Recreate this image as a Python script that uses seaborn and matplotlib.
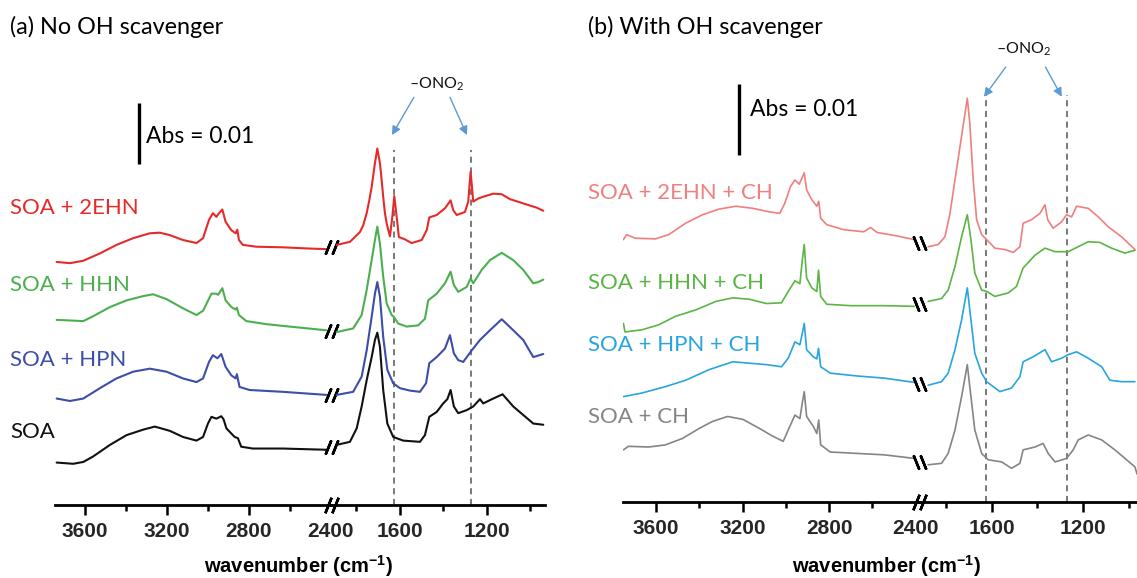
import numpy as np
import pandas as pd
import matplotlib
matplotlib.use("Agg")
import matplotlib.pyplot as plt
from matplotlib.transforms import offset_copy
import seaborn as sns

# ---------------- data (wavenumber in cm-1, absorbance in mAbs incl. stacking offset) ----------------
# Panel (a): no OH scavenger
A_2EHN_w = [3738, 3673, 3608, 3527, 3446, 3365, 3284, 3235, 3186, 3122, 3056, 3024, 2995, 2976, 2959, 2946, 2930, 2914,
            2886, 2865, 2857, 2849, 2830, 2765, 2635, 2505, 2424,
            1891, 1830, 1784, 1769, 1753, 1741, 1730, 1715, 1704, 1692, 1684, 1677, 1669, 1661, 1646, 1635, 1626, 1615,
            1605, 1577, 1546, 1500,
            1477, 1465, 1431, 1393, 1367, 1355, 1339, 1301, 1286, 1275, 1263, 1240, 1217, 1171, 1132, 1094, 1033, 971, 941]
A_2EHN_y = [39.7, 39.5, 39.9, 41.1, 42.5, 43.6, 44.4, 44.5, 44.1, 43.3, 42.8, 43.6, 46.6, 47.7, 47.1, 47.7, 48.3, 46.3,
            44.9, 44.4, 45.0, 43.3, 42.5, 42.2, 42.1, 41.9, 41.8,
            42.5, 43.0, 44.6, 45.7, 47.7, 49.8, 52.0, 55.9, 58.3, 55.9, 53.1, 50.4, 47.7, 46.0, 43.9, 47.1, 50.5, 47.1,
            43.8, 43.4, 42.8, 43.3,
            44.9, 47.0, 47.4, 48.5, 49.8, 48.2, 47.4, 47.9, 49.6, 54.5, 49.6, 50.1, 50.4, 50.9, 50.8, 50.0, 49.3, 48.6, 48.1]

A_HHN_w = [3738, 3608, 3560, 3478, 3397, 3316, 3268, 3202, 3122, 3056, 3024, 2983, 2959, 2951, 2930, 2914, 2886, 2865,
           2859, 2849, 2813, 2716, 2602, 2424,
           1891, 1815, 1776, 1753, 1730, 1715, 1704, 1692, 1677, 1661, 1638, 1628, 1608, 1569, 1516, 1485, 1470, 1431,
           1393, 1367, 1352, 1332, 1293, 1275, 1263, 1224, 1186, 1132, 1079, 1033, 987, 964, 941]
A_HHN_y = [30.2, 30.0, 30.8, 32.3, 33.4, 34.1, 34.4, 33.6, 32.1, 31.0, 31.7, 34.5, 34.5, 34.3, 35.4, 33.4, 32.3, 31.9,
           32.2, 31.0, 30.0, 29.5, 29.1, 28.5,
           28.2, 28.8, 31.0, 35.1, 40.0, 43.3, 45.5, 42.7, 37.3, 32.9, 31.0, 30.7, 29.6, 29.1, 29.3, 30.4, 33.4, 34.5,
           36.2, 38.1, 35.9, 34.8, 35.6, 37.0, 36.2, 38.4, 40.0, 41.2, 40.0, 38.4, 36.2, 36.4, 36.8]

A_HPN_w = [3738, 3673, 3608, 3527, 3446, 3365, 3284, 3202, 3122, 3056, 3024, 2995, 2976, 2954, 2935, 2914, 2886, 2865,
           2859, 2846, 2797, 2635, 2424,
           1891, 1815, 1776, 1753, 1730, 1715, 1704, 1692, 1677, 1658, 1631, 1600, 1554, 1508, 1480, 1465, 1431, 1393,
           1370, 1352, 1332, 1309, 1270, 1232, 1186, 1132, 1079, 1033, 987, 941]
A_HPN_y = [17.3, 16.9, 17.3, 19.0, 20.6, 21.7, 22.2, 21.7, 20.6, 20.0, 20.6, 23.3, 24.4, 23.9, 24.6, 22.5, 21.1, 20.6,
           21.3, 19.2, 18.7, 18.4, 17.9,
           17.9, 18.4, 20.9, 25.2, 30.7, 34.5, 36.4, 34.0, 27.4, 22.0, 19.8, 19.0, 18.6, 18.4, 19.8, 23.1, 24.1, 25.5,
           27.7, 24.7, 23.6, 23.3, 25.2, 26.9, 28.5, 30.3, 28.5, 26.9, 24.1, 24.6]

A_SOA_w = [3738, 3657, 3608, 3560, 3478, 3397, 3316, 3259, 3186, 3122, 3056, 3024, 3000, 2983, 2959, 2935, 2924, 2910,
           2870, 2854, 2838, 2781, 2635, 2424,
           1891, 1830, 1799, 1776, 1753, 1730, 1715, 1704, 1692, 1677, 1658, 1631, 1585, 1508, 1485, 1465, 1431, 1401,
           1382, 1367, 1352, 1332, 1293, 1263, 1232, 1217, 1171, 1128, 1079, 1033, 987, 941]
A_SOA_y = [6.8, 6.6, 6.9, 7.8, 9.7, 11.3, 12.2, 12.7, 12.0, 11.0, 10.4, 11.0, 13.2, 14.3, 14.0, 14.4, 13.9, 12.4,
           11.0, 10.8, 9.4, 9.1, 9.1, 8.9,
           9.7, 10.2, 12.4, 16.0, 20.3, 24.1, 26.9, 28.1, 25.8, 18.7, 13.2, 11.0, 10.4, 10.2, 11.3, 14.3, 15.1, 16.5,
           17.2, 18.7, 16.0, 14.9, 15.4, 16.0, 17.2, 16.5, 17.3, 18.0, 16.0, 14.6, 13.2, 13.0]

# Panel (b): with OH scavenger (cyclohexane)
B_2EHN_w = [3750, 3735, 3696, 3603, 3541, 3463, 3385, 3308, 3230, 3152, 3075, 3028, 3005, 2978, 2958, 2938, 2915, 2904,
            2880, 2857, 2848, 2839, 2811, 2733, 2640, 2609, 2578, 2484, 2407,
            1880, 1836, 1806, 1784, 1762, 1740, 1722, 1708, 1697, 1682, 1667, 1645, 1623, 1587, 1543, 1506, 1477, 1463,
            1426, 1389, 1367, 1355, 1331, 1294, 1272, 1250, 1228, 1177, 1133, 1089, 1031, 972]
B_2EHN_y = [36.8, 37.5, 37.0, 36.9, 37.5, 39.1, 40.3, 41.1, 41.5, 41.2, 40.7, 40.5, 41.9, 44.3, 45.2, 44.6, 46.2, 43.8,
            42.4, 41.5, 42.2, 39.8, 38.9, 38.2, 37.9, 38.5, 37.8, 37.3, 36.8,
            35.8, 36.1, 37.2, 40.5, 45.2, 49.9, 53.7, 56.7, 53.2, 45.2, 39.6, 37.5, 36.8, 35.6, 35.4, 35.0, 35.8, 39.1,
            39.6, 40.5, 41.7, 39.6, 38.4, 39.3, 40.3, 40.0, 41.5, 41.2, 40.0, 38.6, 37.2, 35.4]

B_HHN_w = [3750, 3743, 3665, 3587, 3510, 3416, 3323, 3245, 3168, 3090, 3020, 2989, 2958, 2935, 2924, 2915, 2904, 2880,
           2857, 2849, 2839, 2811, 2702, 2546, 2407,
           1880, 1821, 1792, 1762, 1733, 1708, 1692, 1675, 1645, 1623, 1587, 1528, 1492, 1463, 1411, 1367, 1323, 1265,
           1221, 1177, 1126, 1075, 1016, 972]
B_HHN_y = [25.0, 23.8, 24.1, 24.8, 26.0, 26.9, 28.1, 28.6, 28.4, 27.8, 27.9, 29.5, 31.0, 30.6, 33.9, 36.1, 31.4, 30.0,
           29.5, 32.5, 28.8, 27.7, 27.5, 27.5, 27.4,
           28.1, 28.5, 29.7, 33.0, 37.2, 40.3, 36.8, 32.1, 29.7, 29.5, 28.8, 29.3, 30.2, 32.8, 34.6, 35.6, 35.1, 35.1,
           35.8, 36.5, 36.4, 35.6, 34.9, 35.3]

B_HPN_w = [3750, 3665, 3556, 3463, 3354, 3245, 3168, 3090, 3020, 2989, 2958, 2935, 2924, 2915, 2904, 2873, 2857, 2849,
           2839, 2795, 2671, 2546, 2407,
           1880, 1821, 1792, 1762, 1733, 1708, 1692, 1675, 1645, 1623, 1565, 1514, 1477, 1463, 1419, 1367, 1338, 1294,
           1265, 1228, 1177, 1118, 1082, 1031, 972]
B_HPN_y = [14.7, 15.2, 16.1, 17.0, 18.5, 19.6, 19.4, 19.2, 18.9, 20.1, 22.4, 22.0, 23.6, 25.0, 21.3, 20.3, 20.0, 21.5,
           18.9, 18.0, 17.6, 17.3, 16.7,
           16.3, 16.8, 18.0, 21.3, 25.5, 30.0, 25.5, 20.8, 18.0, 16.8, 15.4, 15.9, 17.5, 19.6, 20.3, 21.3, 19.6, 20.1,
           20.6, 21.0, 20.1, 18.9, 17.0, 16.8, 16.8]

B_SOA_w = [3750, 3727, 3634, 3556, 3478, 3401, 3339, 3269, 3199, 3121, 3059, 3012, 2989, 2958, 2935, 2924, 2915, 2904,
           2873, 2857, 2848, 2839, 2795, 2671, 2546, 2407,
           1880, 1821, 1792, 1762, 1733, 1708, 1692, 1675, 1645, 1616, 1557, 1514, 1477, 1463, 1411, 1375, 1353, 1323,
           1272, 1243, 1221, 1177, 1118, 1060, 1016, 972, 963]
B_SOA_y = [7.2, 7.7, 7.6, 7.9, 8.8, 10.2, 11.2, 11.9, 11.5, 10.2, 9.1, 8.4, 10.0, 12.1, 11.6, 13.8, 15.4, 11.9,
           10.5, 9.5, 11.4, 7.9, 6.9, 6.7, 6.5, 6.0,
           5.1, 5.3, 6.7, 10.0, 14.7, 19.2, 14.7, 10.0, 6.7, 5.8, 5.5, 4.6, 5.3, 7.2, 7.6, 8.1, 6.7, 5.5,
           6.0, 7.2, 8.6, 9.3, 8.6, 7.2, 6.0, 4.8, 3.8]

labels_a = ["SOA + 2EHN", "SOA + HHN", "SOA + HPN", "SOA"]
labels_b = ["SOA + 2EHN + CH", "SOA + HHN + CH", "SOA + HPN + CH", "SOA + CH"]
nitrate_bands_a = [1626, 1274]
nitrate_bands_b = [1628, 1269]
major_hi = [3600, 3200, 2800, 2400]
minor_hi = [3400, 3000, 2600]
major_lo = [1600, 1200]
minor_lo = [1800, 1400, 1000]

colors_a = ["#E62A2A", "#4CAF4F", "#3D4DA8", "#111111"]
colors_b = ["#F07F7F", "#5BB544", "#28A5DE", "#858585"]

# ---------------- build tidy data ----------------
rows = []
series_a = [(labels_a[0], A_2EHN_w, A_2EHN_y), (labels_a[1], A_HHN_w, A_HHN_y),
            (labels_a[2], A_HPN_w, A_HPN_y), (labels_a[3], A_SOA_w, A_SOA_y)]
series_b = [(labels_b[0], B_2EHN_w, B_2EHN_y), (labels_b[1], B_HHN_w, B_HHN_y),
            (labels_b[2], B_HPN_w, B_HPN_y), (labels_b[3], B_SOA_w, B_SOA_y)]
for panel, series in (("a", series_a), ("b", series_b)):
    for name, ws, ys in series:
        for w, y in zip(ws, ys):
            rows.append((panel, name, w, y, "hi" if w > 2100 else "lo"))
df = pd.DataFrame(rows, columns=["panel", "sample", "wavenumber", "absorbance", "segment"])

# ---------------- figure ----------------
sns.set_style("white")
plt.rcParams["font.family"] = ["Lato", "DejaVu Sans"]
plt.rcParams["mathtext.fontset"] = "custom"
plt.rcParams["mathtext.rm"] = "Lato"
plt.rcParams["mathtext.bf"] = "Liberation Sans:bold"

W, H = 1137, 578
fig = plt.figure(figsize=(W / 100, H / 100), dpi=100)


def px_axes(x0, x1, ybot, ytop):
    return fig.add_axes([x0 / W, 1 - ybot / H, (x1 - x0) / W, (ybot - ytop) / H])


panels = {
    "a": dict(hi=(55, 331, (3746, 2400)), lo=(331, 545, (1917, 933)), ybot=505, ytop=40,
              ylim=(-0.16, 76.1), labels=labels_a, colors=colors_a, lw=1.5, bands=nitrate_bands_a,
              band_top=58.0, title="(a) No OH scavenger", title_x=10, label_x=10,
              label_y=[48.5, 35.9, 23.6, 11.8], bar=(3337, 55.7, 65.7), bar_text=(3303, 60.3),
              tips=[(1637, 60.5), (1292, 60.5)], starts=[(1536, 66.7), (1370, 66.7)], ono2=(1430, 68.9),
              xlabel_x=299, trace_angle=-22),
    "b": dict(hi=(623, 919, (3752, 2385)), lo=(919, 1137, (1920, 963)), ybot=502, ytop=40,
              ylim=(-0.14, 64.9), labels=labels_b, colors=colors_b, lw=1.2, bands=nitrate_bands_b,
              band_top=57.2, title="(b) With OH scavenger", title_x=588, label_x=588,
              label_y=[43.4, 30.7, 22.0, 11.8], bar=(3216, 48.7, 58.7), bar_text=(3165, 55.1),
              tips=[(1635, 56.9), (1293, 56.9)], starts=[(1539, 61.1), (1365, 61.1)], ono2=(1460, 63.6),
              xlabel_x=887, trace_angle=22),
}

tick_font = dict(family="Liberation Sans", weight="bold", size=15)

for key, p in panels.items():
    sub = df[df.panel == key]
    pal = dict(zip(p["labels"], p["colors"]))
    axes = {}
    for seg in ("hi", "lo"):
        x0, x1, xl = p[seg]
        ax = px_axes(x0, x1, p["ybot"], p["ytop"])
        ax.patch.set_alpha(0)
        sns.lineplot(data=sub[sub.segment == seg], x="wavenumber", y="absorbance", hue="sample",
                     hue_order=p["labels"], palette=pal, estimator=None, sort=False, legend=False,
                     linewidth=p["lw"], ax=ax)
        ax.set_xlim(*xl)
        ax.set_ylim(*p["ylim"])
        ax.set_xlabel("")
        ax.set_ylabel("")
        ax.set_yticks([])
        for s in ("top", "left", "right"):
            ax.spines[s].set_visible(False)
        ax.spines["bottom"].set_linewidth(2.0)
        ax.spines["bottom"].set_color("black")
        if seg == "hi":
            ax.set_xticks(major_hi)
            ax.set_xticks(minor_hi, minor=True)
        else:
            ax.set_xticks(major_lo)
            ax.set_xticks(minor_lo, minor=True)
        ax.tick_params(axis="x", which="major", direction="out", length=7, width=1.8, pad=5.5,
                       bottom=True, color="black")
        ax.tick_params(axis="x", which="minor", direction="out", length=4.2, width=1.8, bottom=True,
                       color="black")
        for lab in ax.get_xticklabels():
            lab.set_fontproperties(tick_font)
        if seg == "hi":
            ax.xaxis.get_major_ticks()[-1].tick1line.set_visible(False)
        axes[seg] = ax
    axh, axl = axes["hi"], axes["lo"]

    # axis break marks
    xb = axh.get_xlim()[1]
    for dx in (-3.5, 3.5):
        tr = offset_copy(axh.transData, fig=fig, x=dx, y=0, units="dots")
        axh.plot([xb], [p["ylim"][0]], transform=tr, marker=(2, 2, -22), markersize=12, mew=1.8,
                 color="black", clip_on=False, zorder=10)
    # per-trace break marks
    for name in p["labels"]:
        s = sub[sub["sample"] == name]
        yb = 0.5 * (s[s.segment == "hi"].absorbance.iloc[-1] + s[s.segment == "lo"].absorbance.iloc[0])
        for dx in (-3.5, 3.5):
            tr = offset_copy(axh.transData, fig=fig, x=dx, y=0, units="dots")
            axh.plot([xb], [yb], transform=tr, marker=(2, 2, p["trace_angle"]), markersize=11, mew=1.8,
                     color="black", clip_on=False, zorder=10)

    # dashed nitrate lines
    for b in p["bands"]:
        axl.plot([b, b], [p["ylim"][0], p["band_top"]], color="#555555", lw=1.1,
                 linestyle=(0, (4, 3)), zorder=1)
    # arrows and -ONO2 label
    for tip, st in zip(p["tips"], p["starts"]):
        axl.annotate("", xy=tip, xytext=st, xycoords="data", textcoords="data",
                     arrowprops=dict(arrowstyle="-|>", color="#5B9BD5", lw=1.0, mutation_scale=13,
                                     shrinkA=0, shrinkB=0), annotation_clip=False)
    axl.text(p["ono2"][0], p["ono2"][1], "\u2013ONO$_2$", ha="center", va="center", fontsize=11.5,
             color="#111111", clip_on=False)

    # scale bar
    bx, by0, by1 = p["bar"]
    axh.plot([bx, bx], [by0, by1], color="black", lw=2.4, solid_capstyle="butt")
    axh.text(p["bar_text"][0], p["bar_text"][1], "Abs = 0.01", ha="left", va="center", fontsize=16.5,
             color="black")

    # series labels
    for name, col, ly in zip(p["labels"], p["colors"], p["label_y"]):
        axh.annotate(name, xy=(p["label_x"] / W, ly), xycoords=("figure fraction", "data"),
                     ha="left", va="center", fontsize=16, color=col, annotation_clip=False)

    # panel title and x label
    fig.text(p["title_x"] / W, 1 - 27 / H, p["title"], ha="left", va="center", fontsize=16.8, color="black")
    fig.text(p["xlabel_x"] / W, 1 - 566 / H, r"wavenumber (cm$^{\mathbf{-1}}$)", ha="center", va="center",
             fontfamily="Liberation Sans", fontweight="bold", fontsize=14.5, color="black")

fig.savefig("out.png", dpi=100)
